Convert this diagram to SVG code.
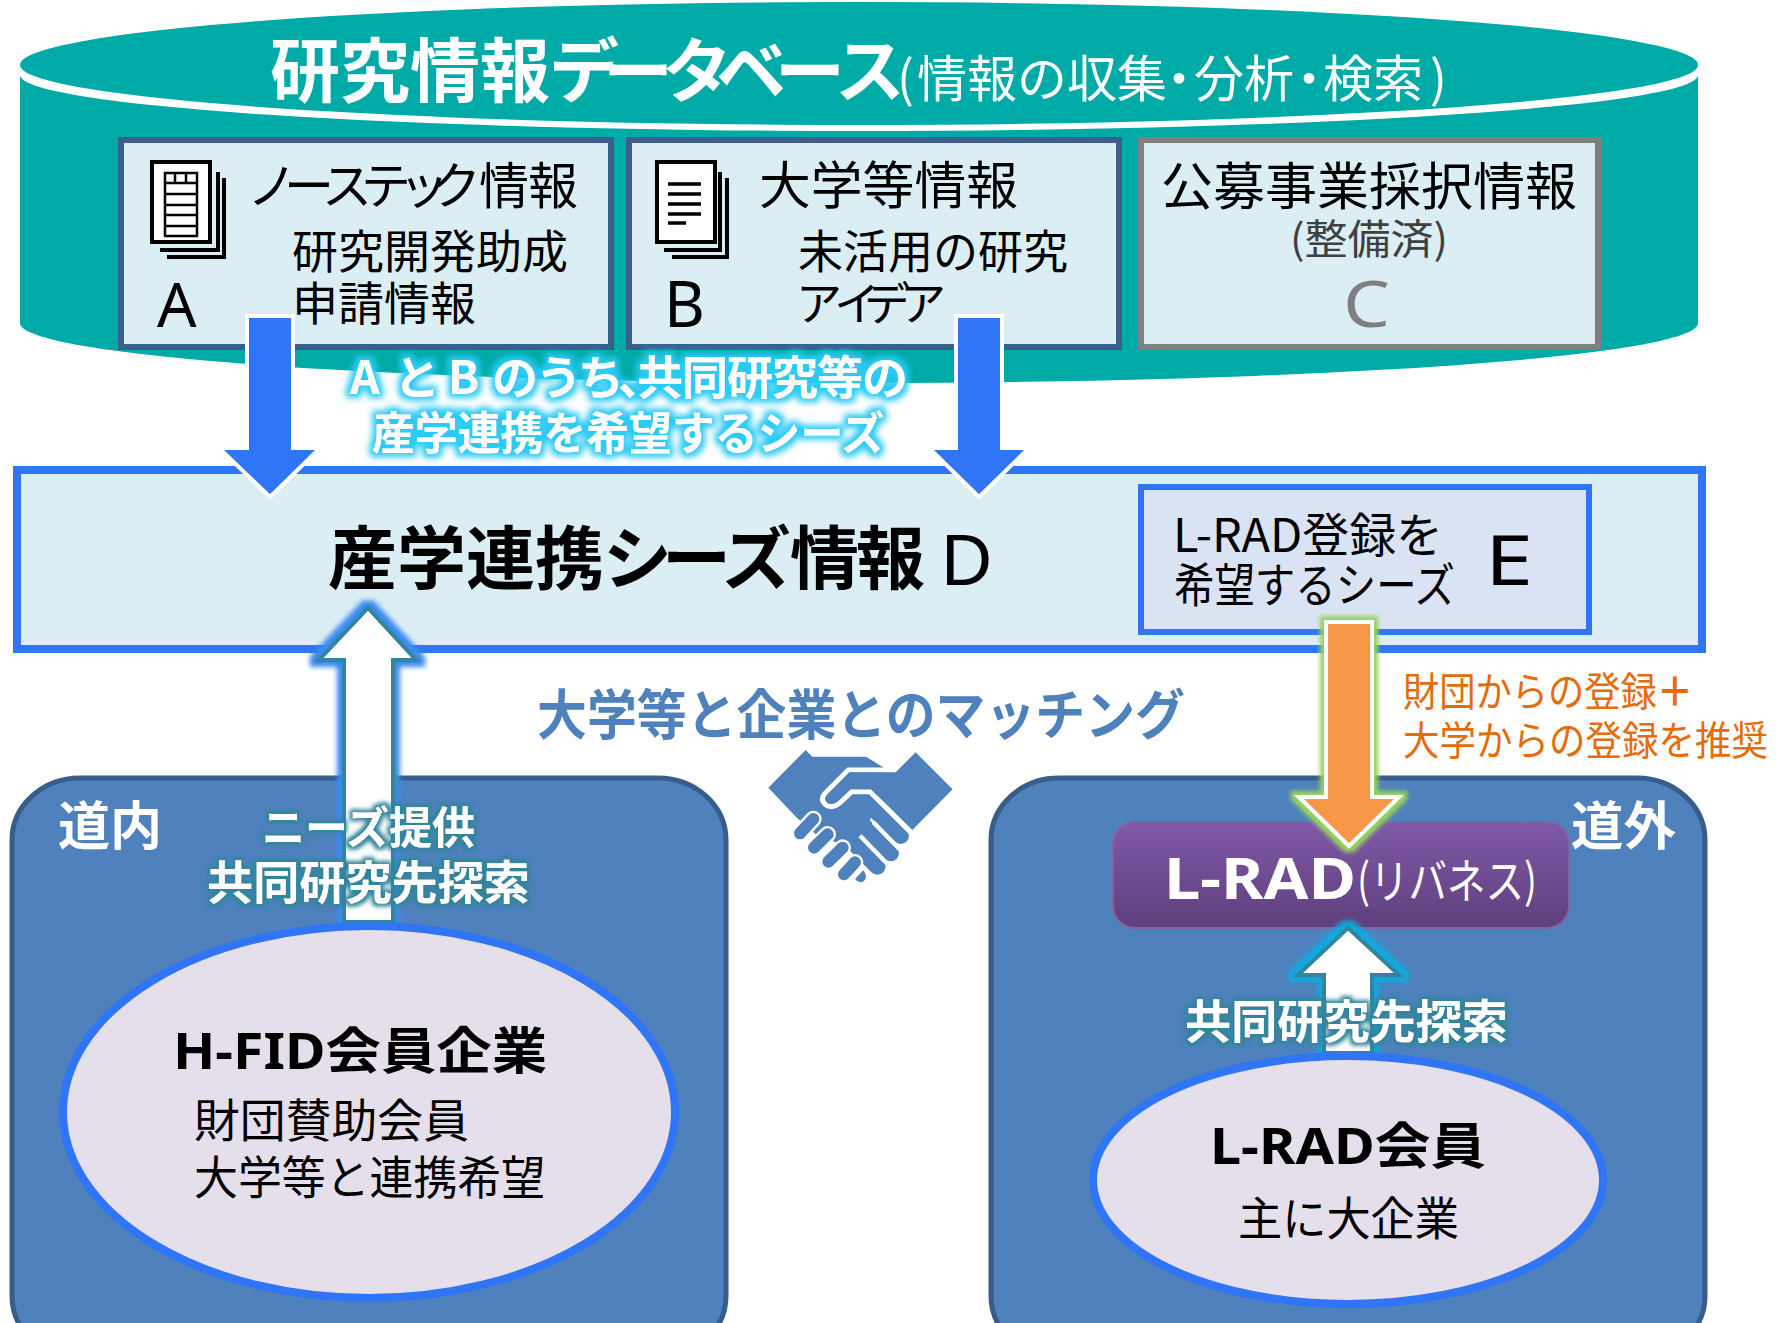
<svg xmlns="http://www.w3.org/2000/svg" width="1782" height="1323" viewBox="0 0 1782 1323">
<defs>
<style>
text{font-family:"Noto Sans CJK JP","Noto Sans",sans-serif;fill:#000}
.lat{font-family:"Noto Sans","Noto Sans CJK JP",sans-serif}
.b{font-weight:700}
.w{fill:#fff}
.box{fill:#dbeef4;stroke-width:6}
.dk{stroke:#3a5f8e}
.blue{stroke:#2f75f5}
.panel{fill:#4f81bd;stroke:#385d8a;stroke-width:5}
.ell{fill:#e5dfec;stroke:#2f75f5;stroke-width:8}
.or{fill:#e46c0a}
.doc{fill:#fff;stroke:#000;stroke-width:4}
.ln{fill:none;stroke:#000;stroke-width:3.5}
</style>
<linearGradient id="pur" x1="0" y1="0" x2="0" y2="1"><stop offset="0" stop-color="#8059a8"/><stop offset="1" stop-color="#5f3f7c"/></linearGradient>
<filter id="glow1" x="-40%" y="-15%" width="180%" height="130%"><feMorphology in="SourceAlpha" operator="dilate" radius="5" result="m"/><feGaussianBlur in="m" stdDeviation="2.5" result="b"/><feFlood flood-color="#3a8af0"/><feComposite in2="b" operator="in" result="c"/><feMerge><feMergeNode in="c"/><feMergeNode in="SourceGraphic"/></feMerge></filter>
<filter id="glow2" x="-40%" y="-15%" width="180%" height="130%"><feMorphology in="SourceAlpha" operator="dilate" radius="5" result="m"/><feGaussianBlur in="m" stdDeviation="2.5" result="b"/><feFlood flood-color="#10aade"/><feComposite in2="b" operator="in" result="c"/><feMerge><feMergeNode in="c"/><feMergeNode in="SourceGraphic"/></feMerge></filter>
<filter id="glowG" x="-40%" y="-15%" width="180%" height="130%"><feMorphology in="SourceAlpha" operator="dilate" radius="4" result="m"/><feGaussianBlur in="m" stdDeviation="2" result="b"/><feFlood flood-color="#97d25e"/><feComposite in2="b" operator="in" result="c"/><feMerge><feMergeNode in="c"/><feMergeNode in="SourceGraphic"/></feMerge></filter>
<filter id="glowC" x="-10%" y="-30%" width="120%" height="160%"><feMorphology in="SourceAlpha" operator="dilate" radius="4" result="m"/><feGaussianBlur in="m" stdDeviation="3" result="b"/><feFlood flood-color="#2ccbf5"/><feComposite in2="b" operator="in" result="c"/><feMerge><feMergeNode in="c"/><feMergeNode in="SourceGraphic"/></feMerge></filter>
<filter id="glowT" x="-10%" y="-30%" width="120%" height="160%"><feMorphology in="SourceAlpha" operator="dilate" radius="3" result="m"/><feGaussianBlur in="m" stdDeviation="2.2" result="b"/><feFlood flood-color="#31859c"/><feComposite in2="b" operator="in" result="c"/><feMerge><feMergeNode in="c"/><feMergeNode in="SourceGraphic"/></feMerge></filter>
</defs>
<rect width="1782" height="1323" fill="#fff"/>

<g id="database">
<path d="M20 65V323A839 60 0 0 0 1698 323V65A839 63 0 0 0 20 65Z" fill="#00aaa6"/>
<path d="M20 65A839 60 0 0 0 1698 65V75A839 56 0 0 1 20 75Z" fill="#fff"/>
<text class="b w" y="97" font-size="70" x="270 340 410 480 549 603 662 716 775 835">研究情報データベース</text>
<text class="w" y="97" font-size="50" x="897 917 967 1017 1067 1117 1154 1194 1244 1284 1323 1373 1430">(情報の収集・分析・検索)</text>
</g>

<g id="box-a">
<rect class="box dk" x="121" y="140" width="490" height="207"/>
<path class="ln" d="M218 172V250H160M224 178V257H167" style="stroke-width:4"/>
<rect class="doc" x="152" y="162" width="58" height="80"/>
<path class="ln" d="M165 173H197V236H165ZM165 183H197M165 194H197M165 205H197M165 215H197M165 226H197M175 173V183M186 173V183" style="stroke-width:2.5"/>
<text y="204" font-size="50" x="247 284 322 361 399 431 479 528">ノーステック情報</text>
<text x="292" y="268" font-size="46" textLength="276" lengthAdjust="spacingAndGlyphs">研究開発助成</text>
<text x="292" y="320" font-size="46" textLength="184" lengthAdjust="spacingAndGlyphs">申請情報</text>
<text class="lat" x="157" y="327" font-size="62">A</text>
</g>

<g id="box-b">
<rect class="box dk" x="629" y="140" width="490" height="207"/>
<path class="ln" d="M720 172V250H664M727 178V257H672" style="stroke-width:4"/>
<rect class="doc" x="657" y="162" width="58" height="80"/>
<path class="ln" d="M668 184H701M668 194H701M668 204H701M668 214H701M668 223H686" style="stroke-width:3.5"/>
<text x="759" y="204" font-size="51" textLength="259" lengthAdjust="spacingAndGlyphs">大学等情報</text>
<text x="798" y="268" font-size="46" textLength="270" lengthAdjust="spacingAndGlyphs">未活用の研究</text>
<text y="320" font-size="46" x="796 834 864 900">アイデア</text>
<text class="lat" x="664" y="327" font-size="63">B</text>
</g>

<g id="box-c">
<rect class="box" stroke="#7f7f7f" x="1141" y="140" width="457" height="207"/>
<text x="1161" y="205" font-size="51" textLength="416" lengthAdjust="spacingAndGlyphs">公募事業採択情報</text>
<text x="1290" y="254" font-size="41" style="fill:#404040" textLength="158" lengthAdjust="spacingAndGlyphs">(整備済)</text>
<text class="lat" x="1343" y="327" font-size="63" textLength="47" lengthAdjust="spacingAndGlyphs" style="fill:#7f7f7f">C</text>
</g>

<g id="box-d">
<rect class="box blue" x="17" y="470" width="1685" height="179" style="stroke-width:8"/>
<text class="b" y="584" font-size="69" x="328 397 466 535 603 662 722 790 856">産学連携シーズ情報</text>
<text class="lat" x="940" y="585" font-size="70" textLength="53" lengthAdjust="spacingAndGlyphs">D</text>
</g>

<g id="box-e">
<rect class="blue" fill="#d9e3f3" x="1141" y="487" width="448" height="145" style="stroke-width:6"/>
<text x="1173" y="552" font-size="47" textLength="270" lengthAdjust="spacingAndGlyphs">L-RAD登録を</text>
<text x="1174" y="602" font-size="47" textLength="281" lengthAdjust="spacingAndGlyphs">希望するシーズ</text>
<text class="lat" x="1485" y="585" font-size="70" textLength="48" lengthAdjust="spacingAndGlyphs">E</text>
</g>

<g id="panel-domestic">
<rect class="panel" x="12" y="778" width="714" height="580" rx="68" ry="62"/>
<text class="b w" x="58" y="845" font-size="52" textLength="104" lengthAdjust="spacingAndGlyphs">道内</text>
</g>

<g id="panel-overseas">
<rect class="panel" x="991" y="778" width="714" height="580" rx="68" ry="62"/>
<text class="b w" x="1571" y="845" font-size="52" textLength="105" lengthAdjust="spacingAndGlyphs">道外</text>
</g>

<g id="lrad">
<rect x="1113" y="822" width="456" height="106" rx="22" fill="url(#pur)" stroke="#8064a2" stroke-width="2"/>
</g>

<g id="handshake" transform="translate(760 745) scale(.3333)">
<path fill="#4f81bd" d="M25 128L137 15 157 35H318L372 68 350 150 300 340 250 300 170 270 112 220Z"/>
<g fill="none" stroke="#4f81bd" stroke-width="50" stroke-linecap="round">
<path d="M250 100L422 272"/><path d="M250 182L392 324"/><path d="M200 212L352 364"/>
</g>
<path d="M340 232L445 340M300 272L400 375" fill="none" stroke="#fff" stroke-width="13"/>
<path d="M410 75H265L195 145Q178 165 198 180 215 192 238 175L275 140H330L452 262" fill="none" stroke="#fff" stroke-width="15"/>
<path fill="#4f81bd" d="M407 82L467 22 578 133 457 255 333 133H272L232 170Q215 183 203 173 190 160 203 148L268 82Z"/>
<g fill="none" stroke-linecap="round">
<g stroke="#fff" stroke-width="50"><path d="M120 265L160 222"/><path d="M162 308L203 268"/><path d="M205 350L248 308"/><path d="M252 388L285 352"/></g>
<g stroke="#4f81bd" stroke-width="36"><path d="M120 265L160 222"/><path d="M162 308L203 268"/><path d="M205 350L248 308"/><path d="M252 388L285 352"/></g>
</g>
<path fill="#4f81bd" d="M285 402L310 376Q325 395 312 408 298 418 285 402Z"/>
</g>

<g id="connectors">
<path d="M247 316H293V448H320L270 497 219 448H247Z" fill="#2f75f5" stroke="#fff" stroke-width="4"/>
<path d="M956 316H1002V448H1029L979 497 929 448H956Z" fill="#2f75f5" stroke="#fff" stroke-width="4"/>
<path d="M344 922V660H319L368 608 416 660H393V922Z" fill="#fff" stroke="#31859c" stroke-width="4" filter="url(#glow1)"/>
<path d="M1326 622H1372V797H1399L1349 846 1299 797H1326Z" fill="#f79646" stroke="#fff" stroke-width="4" filter="url(#glowG)"/>
<path d="M1324 1053V975H1298L1348 928 1399 975H1372V1053Z" fill="#fff" stroke="#31859c" stroke-width="4" filter="url(#glow2)"/>
</g>

<g id="ellipse-hfid">
<ellipse class="ell" cx="369" cy="1112" rx="306" ry="186"/>
<text class="b lat" x="173" y="1069" font-size="50" textLength="374" lengthAdjust="spacingAndGlyphs">H-FID会員企業</text>
<text x="194" y="1137" font-size="46" textLength="275" lengthAdjust="spacingAndGlyphs">財団賛助会員</text>
<text x="194" y="1194" font-size="46" textLength="351" lengthAdjust="spacingAndGlyphs">大学等と連携希望</text>
</g>

<g id="ellipse-lrad">
<ellipse class="ell" cx="1348" cy="1180" rx="255" ry="124"/>
<text class="b lat" x="1210" y="1164" font-size="50" textLength="276" lengthAdjust="spacingAndGlyphs">L-RAD会員</text>
<text x="1238" y="1235" font-size="46" textLength="221" lengthAdjust="spacingAndGlyphs">主に大企業</text>
</g>

<g id="labels">
<g filter="url(#glowC)">
<text class="b w" y="394" font-size="46" x="350 380 394 430 448 478 492 536 578 618 637 682 727 772 817 862">A と B のうち、共同研究等の</text>
<text class="b w" x="372" y="450" font-size="45" textLength="512" lengthAdjust="spacingAndGlyphs">産学連携を希望するシーズ</text>
</g>
<text class="b" style="fill:#4f81bd" x="537" y="735" font-size="54" textLength="648" lengthAdjust="spacingAndGlyphs">大学等と企業とのマッチング</text>
<text class="or" x="1403" y="706" font-size="40" textLength="290" lengthAdjust="spacingAndGlyphs">財団からの登録<tspan class="b">＋</tspan></text>
<text class="or" x="1403" y="755" font-size="40" textLength="365" lengthAdjust="spacingAndGlyphs">大学からの登録を推奨</text>
<g filter="url(#glowT)">
<text class="b w" x="262" y="844" font-size="44" textLength="213" lengthAdjust="spacingAndGlyphs">ニーズ提供</text>
<text class="b w" x="207" y="899" font-size="46" textLength="323" lengthAdjust="spacingAndGlyphs">共同研究先探索</text>
<text class="b w" x="1185" y="1038" font-size="46" textLength="323" lengthAdjust="spacingAndGlyphs">共同研究先探索</text>
</g>
<text class="b lat w" x="1164" y="899" font-size="58" textLength="192" lengthAdjust="spacingAndGlyphs">L-RAD</text>
<text class="w" x="1357" y="898" font-size="47" textLength="180" lengthAdjust="spacingAndGlyphs">(リバネス)</text>
</g>
</svg>
